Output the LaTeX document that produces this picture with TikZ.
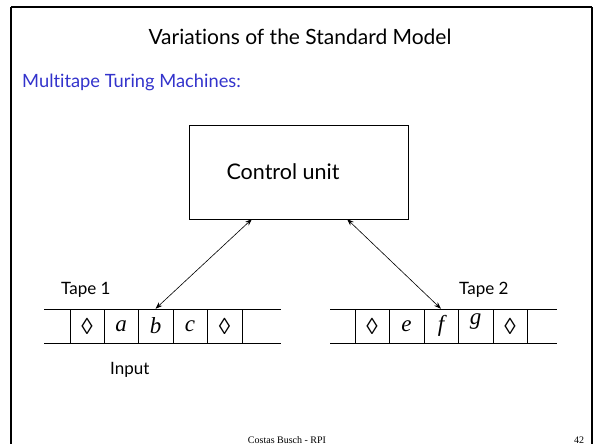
\documentclass[tikz,border=0pt]{standalone}
\usepackage{fontspec}
\setmainfont{Lato}[Ligatures=NoCommon]
\newfontfamily\timesf{Liberation Serif}
\usetikzlibrary{arrows.meta}
\definecolor{subblue}{RGB}{51,51,204}
\begin{document}
\begin{tikzpicture}[x=1pt,y=-1pt,
  lbl/.style={inner sep=0pt,font=\fontsize{17}{20}\selectfont},
  cell/.style={inner sep=0pt,minimum width=34pt,minimum height=34pt,font=\timesf\fontsize{23}{25}\selectfont\itshape},
  tapeline/.style={line width=0.8pt},
  link/.style={line width=0.6pt,{Stealth[length=7pt,width=5pt]}-{Stealth[length=7pt,width=5pt]}}]
\useasboundingbox (0,0) rectangle (600,444);
\fill[white] (0,0) rectangle (600,444);
% slide frame
\draw[line width=2pt] (11,7) -- (592,7);
\draw[line width=2pt] (11,7) -- (11,470) (592,7) -- (592,470);
% title
\node[inner sep=0pt,font=\fontsize{21}{24}\selectfont] (title) at (300,37) {Variations of the Standard Model};
\node[inner sep=0pt,anchor=west,text=subblue,font=\fontsize{18.3}{21}\selectfont] (sub) at (22,82) {Multitape Turing Machines:};
% control unit
\node[draw,line width=0.8pt,minimum width=219pt,minimum height=94pt,inner sep=0pt] (cu) at (298.5,172) {};
\node[inner sep=0pt,font=\fontsize{21.5}{24}\selectfont] (cut) at (283,172) {Control unit};
% tape 1
\draw[tapeline] (44,309) -- (281,309) (44,343) -- (281,343);
\foreach \x in {70,104,138,173,207,242} \draw[tapeline] (\x,309) -- (\x,343);
\node[cell] (t1a) at (87,326) {\upshape ◊};
\node[cell] (t1b) at (121,326) {a};
\node[cell] (t1c) at (155.5,326) {b};
\node[cell] (t1d) at (190,326) {c};
\node[cell] (t1e) at (224.5,326) {\upshape ◊};
% tape 2
\draw[tapeline] (330,309) -- (557,309) (330,343) -- (557,343);
\foreach \x in {355,389,424,458,493,527} \draw[tapeline] (\x,309) -- (\x,343);
\node[cell] (t2a) at (372,326) {\upshape ◊};
\node[cell] (t2b) at (406.5,326) {e};
\node[cell] (t2c) at (441,326) {f};
\node[cell] (t2d) at (475.5,322) {g};
\node[cell] (t2e) at (510,326) {\upshape ◊};
% labels
\node[lbl,anchor=west] (tape1) at (61,290) {Tape 1};
\node[lbl,anchor=west] (tape2) at (459,290) {Tape 2};
\node[lbl,anchor=west] (input) at (110,370) {Input};
% connectors
\coordinate (c1) at (252,219);
\coordinate (c2) at (347,219);
\draw[link] (c1) -- (t1c.north);
\draw[link] (c2) -- (t2c.north);
% footer
\node[inner sep=0pt,font=\timesf\fontsize{10}{12}\selectfont,anchor=base] (foot) at (287,443) {Costas Busch - RPI};
\node[inner sep=0pt,font=\timesf\fontsize{10}{12}\selectfont,anchor=base] (page) at (579,443) {42};
\end{tikzpicture}
\end{document}
